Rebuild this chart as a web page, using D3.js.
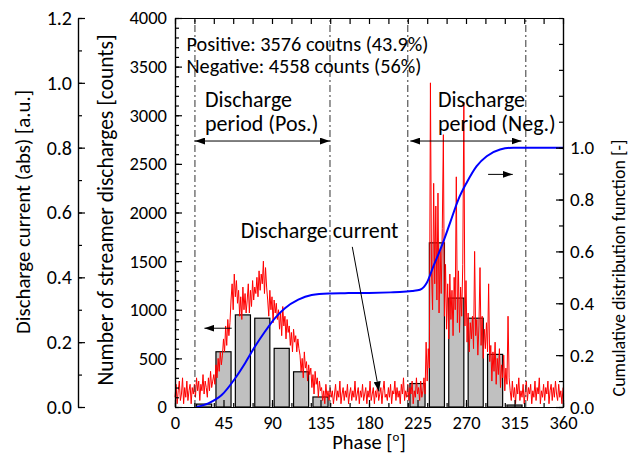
<!DOCTYPE html>
<html><head><meta charset="utf-8">
<script src="https://cdn.jsdelivr.net/npm/d3@7"></script>
<style>
body{margin:0;background:#fff}
svg{display:block}
text{font-family:Carlito, Lato, sans-serif;fill:#000}
</style></head>
<body><svg id="c" width="641" height="456"></svg>
<script>
// ---------- data ----------
const binCenters = [27, 45, 63, 81, 99, 117, 135, 225, 243, 261, 279, 297, 315];
const binCounts  = [30, 568, 947, 913, 603, 362, 103, 241, 1688, 1120, 913, 541, 20];
const binWidth = 14;

// discharge current (abs, a.u.), one sample per degree, 0..360
const currentValues = [
0.03,0.07,0.01,0.05,0.08,0.02,0.04,0.09,0.01,0.06,0.03,0.08,0.02,0.05,0.07,0.01,0.06,0.04,
0.07,0.03,0.09,0.05,0.08,0.02,0.07,0.05,0.10,0.04,0.08,0.06,0.03,0.09,0.05,0.11,0.06,0.08,
0.10,0.07,0.13,0.09,0.15,0.11,0.17,0.13,0.16,
0.21,0.17,0.25,0.19,0.27,0.22,0.26,
0.33,0.38,0.30,0.41,0.34,0.39,0.32,
0.36,0.28,0.34,0.27,0.37,0.30,0.35,0.29,
0.33,0.38,0.29,0.36,0.31,0.39,0.33,0.37,0.35,
0.40,0.34,0.42,0.36,0.41,0.38,0.45,0.35,0.43,0.37,
0.33,0.28,0.36,0.30,0.34,0.26,0.33,0.29,0.32,0.27,
0.30,0.24,0.29,0.22,0.31,0.25,0.28,0.21,0.27,0.23,
0.25,0.19,0.23,0.17,0.24,0.20,0.22,0.17,0.21,0.18,
0.16,0.11,0.15,0.09,0.17,0.12,0.14,0.08,0.13,0.10,
0.12,0.06,0.10,0.04,0.11,0.07,0.09,0.03,0.08,0.05,
0.06,0.02,0.05,0.01,0.07,0.03,0.05,0.02,0.06,0.03,
0.05,0.01,0.04,0.07,0.02,0.05,0.03,0.08,0.01,0.04,
0.06,0.02,0.05,0.03,0.07,0.01,0.04,0.06,0.02,0.05,
0.03,0.08,0.02,0.04,0.06,0.01,0.05,0.03,0.07,0.02,
0.04,0.06,0.01,0.05,0.03,0.08,0.02,0.04,0.06,0.01,
0.05,0.03,0.07,0.02,0.04,0.06,0.01,0.05,0.08,0.03,
0.04,0.02,0.06,0.03,0.07,0.01,0.05,0.04,0.08,0.02,
0.06,0.03,0.05,0.01,0.07,0.04,0.09,0.02,0.05,0.03,
0.07,0.02,0.06,0.04,0.08,0.01,0.05,0.03,0.09,0.04,
0.06,0.02,0.08,0.03,0.05,0.09,0.04,
0.20,0.08,0.18,0.12,1.00,
0.42,0.30,0.69,0.38,0.62,0.33,0.66,0.29,0.48,0.35,0.55,0.84,
0.28,0.44,0.24,0.38,0.21,0.41,0.27,0.36,0.22,0.40,
0.30,0.71,0.26,0.42,0.23,0.37,0.28,0.44,0.94,0.25,0.39,
0.20,0.29,0.17,0.26,0.21,0.28,0.18,
0.48,0.22,0.27,0.16,0.25,0.43,0.19,0.28,0.15,0.24,0.18,0.26,0.17,0.38,
0.14,0.19,0.08,0.17,0.11,0.20,0.07,0.15,0.10,0.18,0.06,0.13,0.09,0.16,0.05,
0.12,0.07,0.28,0.09,
0.05,0.02,0.08,0.03,0.06,0.01,0.07,0.04,0.09,0.02,0.05,
0.03,0.07,0.01,0.05,0.08,0.02,0.06,0.04,0.07,0.01,
0.05,0.03,0.08,0.02,0.06,0.04,0.09,0.01,0.05,0.03,
0.07,0.02,0.06,0.04,0.08,0.01,0.05,0.07,0.02,0.06,
0.03,0.08,0.04,0.02,0.07,0.03,0.05,0.01,0.06
];

const cdfPhase = [20, 30.9, 43.3, 55.7, 65, 74.2, 83.5, 92.8, 102, 114.4, 126.8, 142.3, 157.7, 180, 200, 208.7, 220, 227.3, 233.5, 239.7, 247.4, 255.2, 262.9, 270.6, 279.9, 289.2, 301.6, 314, 330, 360];
const cdfValue = [0, 0.014, 0.046, 0.11, 0.169, 0.233, 0.291, 0.343, 0.381, 0.414, 0.432, 0.438, 0.439, 0.440, 0.442, 0.443, 0.447, 0.452, 0.478, 0.542, 0.62, 0.71, 0.80, 0.865, 0.929, 0.967, 0.993, 1.0, 1.0, 1.0];

const periodLines = [18.5, 143.8, 216, 325.5];

const phaseTicks = [0, 45, 90, 135, 180, 225, 270, 315, 360];
const countTicks = [0, 500, 1000, 1500, 2000, 2500, 3000, 3500, 4000];
const currentTicks = [0, 0.2, 0.4, 0.6, 0.8, 1.0, 1.2];
const cdfTicks = [0, 0.2, 0.4, 0.6, 0.8, 1.0];

// ---------- scales ----------
const svg = d3.select("#c");
const x = d3.scaleLinear([0, 360], [175, 563]);
const yCount = d3.scaleLinear([0, 4000], [407, 18]);
const yCur = d3.scaleLinear([0, 1.2], [407, 18]);
const yCdf = d3.scaleLinear([0, 1.5], [407, 18]);

const defs = svg.append("defs");
defs.append("marker").attr("id", "ah").attr("viewBox", "0 0 10 7")
  .attr("refX", 10).attr("refY", 3.5).attr("markerWidth", 10).attr("markerHeight", 7)
  .attr("markerUnits", "userSpaceOnUse").attr("orient", "auto-start-reverse")
  .append("path").attr("d", "M0,0L10,3.5L0,7Z").attr("fill", "#000");

// ---------- bars ----------
svg.append("g").selectAll("rect").data(binCenters).join("rect")
  .attr("x", (d) => x(d - binWidth / 2))
  .attr("width", (d) => x(d + binWidth / 2) - x(d - binWidth / 2))
  .attr("y", (d, i) => yCount(binCounts[i]))
  .attr("height", (d, i) => yCount(0) - yCount(binCounts[i]))
  .attr("fill", "#c0c0c0").attr("stroke", "#000").attr("stroke-width", 1.2);

// ---------- current ----------
svg.append("path").datum(currentValues)
  .attr("d", d3.line().x((d, i) => x(i)).y((d) => yCur(d)))
  .attr("fill", "none").attr("stroke", "#ff0000").attr("stroke-width", 1);

// ---------- period lines ----------
svg.append("g").selectAll("line").data(periodLines).join("line")
  .attr("x1", (d) => x(d)).attr("x2", (d) => x(d))
  .attr("y1", yCount(0)).attr("y2", yCount(4000))
  .attr("stroke", "#333").attr("stroke-width", 1).attr("stroke-dasharray", "7,3,2,3");

// ---------- cdf ----------
svg.append("path").datum(cdfPhase.map((p, i) => [p, cdfValue[i]]))
  .attr("d", d3.line().x((d) => x(d[0])).y((d) => yCdf(d[1])).curve(d3.curveMonotoneX))
  .attr("fill", "none").attr("stroke", "#0000ff").attr("stroke-width", 2);

// ---------- axes ----------
function styleAxis(size) {
  return (g) => {
    g.selectAll("path,line").attr("stroke", "#000").attr("stroke-width", 1.2);
    g.selectAll("text").style("font-size", size).style("font-family", "Carlito, Lato, sans-serif");
  };
}
// bottom
svg.append("g").attr("transform", `translate(0,${yCount(0)})`)
  .call(d3.axisBottom(x).tickValues(d3.range(0, 361, 18)).tickSizeInner(-4).tickSizeOuter(0).tickFormat(""))
  .call(styleAxis("18px"));
svg.append("g").attr("transform", `translate(0,${yCount(0)})`)
  .call(d3.axisBottom(x).tickValues(phaseTicks).tickSizeInner(-7).tickSizeOuter(0).tickPadding(9).tickFormat(d3.format("d")))
  .call(styleAxis("18.5px"));
// top
svg.append("g").attr("transform", `translate(0,${yCount(4000)})`)
  .call(d3.axisTop(x).tickValues(d3.range(0, 361, 18)).tickSizeInner(-6).tickSizeOuter(0).tickFormat(""))
  .call(styleAxis("18px"));
// counts
svg.append("g").attr("transform", `translate(${x(0)},0)`)
  .call(d3.axisLeft(yCount).tickValues(d3.range(0, 4001, 100)).tickSizeInner(-4).tickSizeOuter(0).tickFormat(""))
  .call(styleAxis("18px"));
svg.append("g").attr("transform", `translate(${x(0)},0)`)
  .call(d3.axisLeft(yCount).tickValues(countTicks).tickSizeInner(-7).tickSizeOuter(0).tickPadding(8).tickFormat(d3.format("d")))
  .call(styleAxis("18.5px"));
// current (far left)
svg.append("g").attr("transform", "translate(78,0)")
  .call(d3.axisLeft(yCur).tickValues(d3.range(0, 13).map((k) => k / 10)).tickSizeInner(-4).tickSizeOuter(0).tickFormat(""))
  .call(styleAxis("18px"));
svg.append("g").attr("transform", "translate(78,0)")
  .call(d3.axisLeft(yCur).tickValues(currentTicks).tickSizeInner(-7).tickSizeOuter(0).tickPadding(6).tickFormat(d3.format(".1f")))
  .call(styleAxis("20px"));
// cdf (right)
svg.append("g").attr("transform", `translate(${x(360)},0)`)
  .call(d3.axisRight(yCdf).tickValues(d3.range(0, 16).map((k) => k / 10)).tickSizeInner(-4).tickSizeOuter(0).tickFormat(""))
  .call(styleAxis("18px"));
svg.append("g").attr("transform", `translate(${x(360)},0)`)
  .call(d3.axisRight(yCdf).tickValues(cdfTicks).tickSizeInner(-7).tickSizeOuter(0).tickPadding(7).tickFormat(d3.format(".1f")))
  .call(styleAxis("19px"));

// ---------- axis titles ----------
svg.append("text").attr("transform", "translate(30,212) rotate(-90)")
  .attr("text-anchor", "middle").style("font-size", "20.8px").text("Discharge current (abs) [a.u.]");
svg.append("text").attr("transform", "translate(113,210) rotate(-90)")
  .attr("text-anchor", "middle").style("font-size", "21.5px").text("Number of streamer discharges [counts]");
svg.append("text").attr("transform", "translate(625,268) rotate(-90)")
  .attr("text-anchor", "middle").style("font-size", "18px").text("Cumulative distribution function [-]");
const xt = svg.append("text").attr("x", 369).attr("y", 449).attr("text-anchor", "middle").style("font-size", "20.5px");
xt.append("tspan").text("Phase [");
xt.append("tspan").attr("dy", -8).style("font-size", "13px").text("o");
xt.append("tspan").attr("dy", 8).text("]");

// ---------- annotations ----------
svg.append("text").attr("x", x(10.7)).attr("y", yCount(3660)).style("font-size", "20.3px").text("Positive: 3576 coutns (43.9%)");
svg.append("text").attr("x", x(10.7)).attr("y", yCount(3430)).style("font-size", "20.3px").text("Negative: 4558 counts (56%)");
[[27.8, "Pos."], [244, "Neg."]].forEach(([p, s]) => {
  svg.append("text").attr("x", x(p)).attr("y", yCount(3085)).style("font-size", "22px").text("Discharge");
  svg.append("text").attr("x", x(p)).attr("y", yCount(2838)).style("font-size", "22px").text(`period (${s})`);
});
function arrow(x1, y1, x2, y2, both) {
  const l = svg.append("line").attr("x1", x1).attr("y1", y1).attr("x2", x2).attr("y2", y2)
    .attr("stroke", "#000").attr("stroke-width", 1).attr("marker-end", "url(#ah)");
  if (both) l.attr("marker-start", "url(#ah)");
}
arrow(x(18.6), yCount(2735), x(143.6), yCount(2735), true);
arrow(x(218.3), yCount(2735), x(321.5), yCount(2735), true);
arrow(x(52.6), yCur(0.243), x(27.3), yCur(0.243), false);
arrow(x(290.5), yCdf(0.897), x(313.4), yCdf(0.897), false);
svg.append("text").attr("x", x(61)).attr("y", yCount(1738)).style("font-size", "22px").text("Discharge current");
arrow(x(164.5), yCur(0.494), x(189.3), yCur(0.048), false);
</script></body></html>
